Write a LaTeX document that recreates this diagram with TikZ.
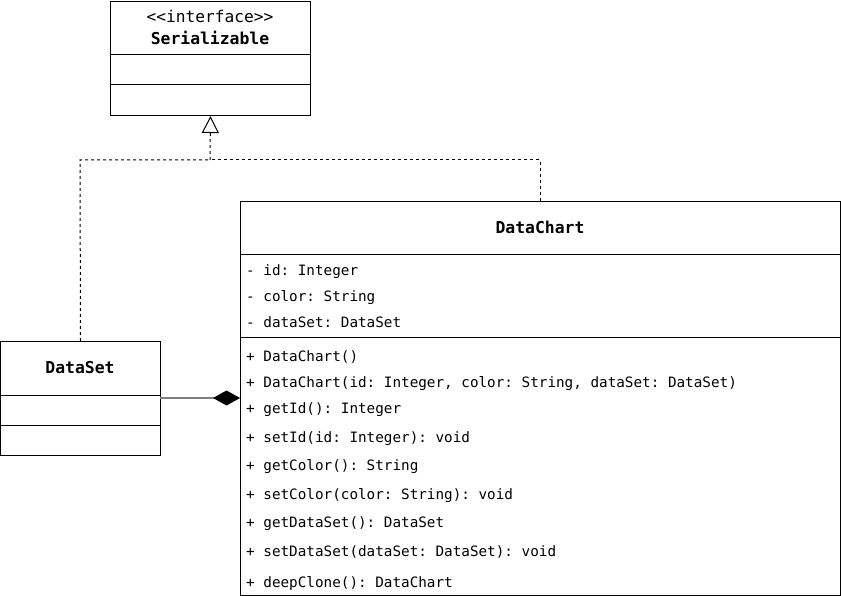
\documentclass[tikz,border=0pt]{standalone}
\usepackage{fontspec}
\setmonofont{DejaVu Sans Mono}
\usetikzlibrary{arrows.meta}
\tikzset{
  classbox/.style={draw=black, line width=1pt, fill=white, rectangle, inner sep=0pt, anchor=north west},
  member/.style={anchor=west, inner sep=0pt, font=\ttfamily\fontsize{14.3}{16}\selectfont, text height=10pt, text depth=3pt},
  ctitle/.style={inner sep=0pt, font=\ttfamily\bfseries\fontsize{16.4}{18}\selectfont, text height=10.5pt, text depth=3pt},
  stereo/.style={inner sep=0pt, font=\ttfamily\fontsize{16.2}{18}\selectfont, text height=10.5pt, text depth=3pt},
  divider/.style={draw=black, line width=1pt},
  realize/.style={draw=black, line width=1pt, dash pattern=on 3pt off 3pt},
  compose/.style={draw=gray, line width=1.2pt},
}
\begin{document}
\begin{tikzpicture}[x=1pt,y=-1pt]
\useasboundingbox (0,0) rectangle (841,596);
% Serializable
\node[classbox, minimum width=200pt, minimum height=114pt] (ser) at (110,1) {};
\node[stereo] (serst) at (210,19) {{<}{<}interface{>}{>}};
\node[ctitle] (sert) at (210,41) {Serializable};
\draw[divider] (110,55) -- (310,55);
\draw[divider] (110,85) -- (310,85);
% DataChart
\node[classbox, minimum width=600pt, minimum height=394pt] (dc) at (240,201) {};
\node[ctitle] (dct) at (540,230) {DataChart};
\draw[divider] (240,255) -- (840,255);
\draw[divider] (240,337) -- (840,337);
\node[member] (a1) at (246,272) {- id: Integer};
\node[member] (a2) at (246,298) {- color: String};
\node[member] (a3) at (246,324) {- dataSet: DataSet};
\node[member] (m1) at (246,358) {+ DataChart()};
\node[member] (m2) at (246,384) {+ DataChart(id: Integer, color: String, dataSet: DataSet)};
\node[member] (m3) at (246,410) {+ getId(): Integer};
\node[member] (m4) at (246,439) {+ setId(id: Integer): void};
\node[member] (m5) at (246,467) {+ getColor(): String};
\node[member] (m6) at (246,496) {+ setColor(color: String): void};
\node[member] (m7) at (246,524) {+ getDataSet(): DataSet};
\node[member] (m8) at (246,553) {+ setDataSet(dataSet: DataSet): void};
\node[member] (m9) at (246,584) {+ deepClone(): DataChart};
% DataSet
\node[classbox, minimum width=160pt, minimum height=114pt] (ds) at (0,341) {};
\node[ctitle] (dst) at (80,370) {DataSet};
\draw[divider] (0,395) -- (160,395);
\draw[divider] (0,425) -- (160,425);
% realization connectors
\coordinate (jmid) at (210,160);
\coordinate (jl) at (80,160);
\coordinate (jr) at (540,160);
\draw[realize] (ds.north) -- (jl) -- (jmid);
\draw[realize] (dc.north west -| jr) -- (jr) -- (jmid);
\draw[realize, -{Triangle[open, length=17pt, width=17pt, fill=white, line width=1pt]}] (jmid) -- (ser.south);
% composition
\coordinate (cl) at (160,398);
\coordinate (cr) at (240,398);
\draw[compose, -{Diamond[length=27pt, width=15pt, fill=black, color=black]}] (cl) -- (cr);
\end{tikzpicture}
\end{document}
